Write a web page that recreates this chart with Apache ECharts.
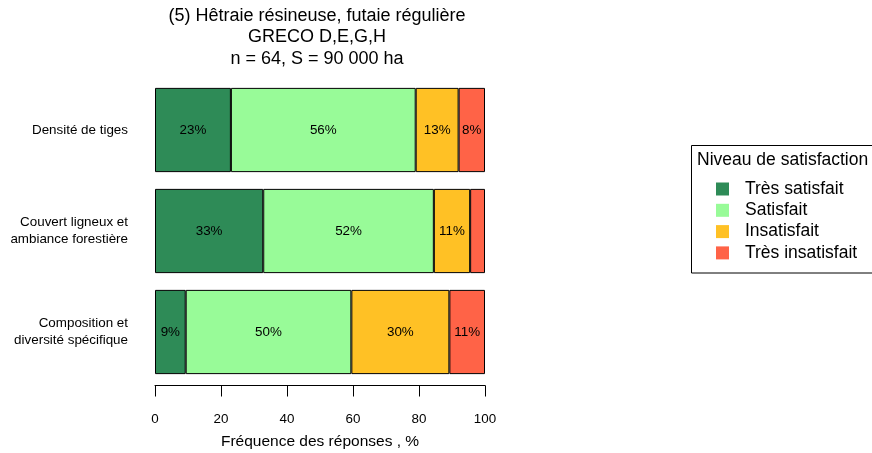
<!DOCTYPE html>
<html>
<head>
<meta charset="utf-8">
<script src="https://cdn.jsdelivr.net/npm/echarts@6/dist/echarts.min.js"></script>
<style>html,body{margin:0;padding:0;background:#fff;}#c{width:872px;height:453px;}</style>
</head>
<body>
<div id="c"></div>
<script>
const categories = ['Densité de tiges', 'Couvert ligneux et\nambiance forestière', 'Composition et\ndiversité spécifique'];
const seriesNames = ['Très satisfait', 'Satisfait', 'Insatisfait', 'Très insatisfait'];
const tresSatisfait = [23, 32.8, 9.3];
const satisfait = [56, 51.7, 50.2];
const insatisfait = [13, 11.0, 29.7];
const tresInsatisfait = [8, 4.5, 10.8];
const colors = ['#2E8B57', '#98FB98', '#FFC125', '#FF6347'];
const xTicks = [0, 20, 40, 60, 80, 100];

const FONT = '"Liberation Sans", Arial, sans-serif';
const allData = [tresSatisfait, satisfait, insatisfait, tresInsatisfait];

const chart = echarts.init(document.getElementById('c'), null, {renderer: 'canvas'});
const option = {
  animation: false,
  textStyle: {fontFamily: FONT, color: '#000'},
  title: {
    text: '(5) Hêtraie résineuse, futaie régulière\nGRECO D,E,G,H\nn = 64, S = 90 000 ha',
    left: 317, top: 5, textAlign: 'center', padding: 0,
    textStyle: {fontFamily: FONT, fontSize: 18, fontWeight: 'normal', color: '#000', lineHeight: 21.5}
  },
  grid: {left: 155, right: 387, top: 79.5, height: 303, containLabel: false, outerBoundsMode: 'none'},
  xAxis: {
    type: 'value', min: 0, max: 100, interval: 20,
    offset: 3,
    axisLine: {show: true, lineStyle: {color: '#000', width: 1}},
    axisTick: {show: true, length: 11, lineStyle: {color: '#000', width: 1}},
    splitLine: {show: false},
    axisLabel: {margin: 27, fontSize: 13.4, color: '#000', fontFamily: FONT,
      formatter: v => xTicks.includes(v) ? String(v) : ''},
    name: 'Fréquence des réponses , %',
    nameLocation: 'middle', nameGap: 48,
    nameTextStyle: {fontSize: 15.5, color: '#000', fontFamily: FONT}
  },
  yAxis: {
    type: 'category', data: categories, inverse: true,
    axisLine: {show: false}, axisTick: {show: false},
    axisLabel: {margin: 27, fontSize: 13.4, color: '#000', fontFamily: FONT, lineHeight: 17, align: 'right'}
  },
  legend: {
    orient: 'vertical', left: 716, top: 180, padding: 0,
    itemWidth: 13, itemHeight: 13, itemGap: 3.3,
    icon: 'rect',
    itemStyle: {borderWidth: 0},
    textStyle: {fontSize: 17.5, color: '#000', fontFamily: FONT, lineHeight: 17, padding: [0, 0, 0, 11]},
    data: seriesNames
  },
  graphic: [
    {type: 'rect', shape: {x: 691.5, y: 145.5, width: 220, height: 127.5},
      style: {fill: 'none', stroke: '#000', lineWidth: 1}, silent: true},
    {type: 'text', x: 697, y: 160.5, silent: true,
      style: {text: 'Niveau de satisfaction', font: '17.5px ' + FONT, fill: '#000', verticalAlign: 'middle'}}
  ],
  series: seriesNames.map((name, i) => ({
    name: name, type: 'bar', stack: 'total',
    barCategoryGap: '16.6%',
    data: allData[i],
    itemStyle: {color: colors[i], borderColor: '#000', borderWidth: 1},
    label: {
      show: true, position: 'inside', color: '#000', fontSize: 13.4, fontFamily: FONT,
      formatter: p => p.value >= 6 ? Math.round(p.value) + '%' : ''
    }
  }))
};
chart.setOption(option);
</script>
</body>
</html>
